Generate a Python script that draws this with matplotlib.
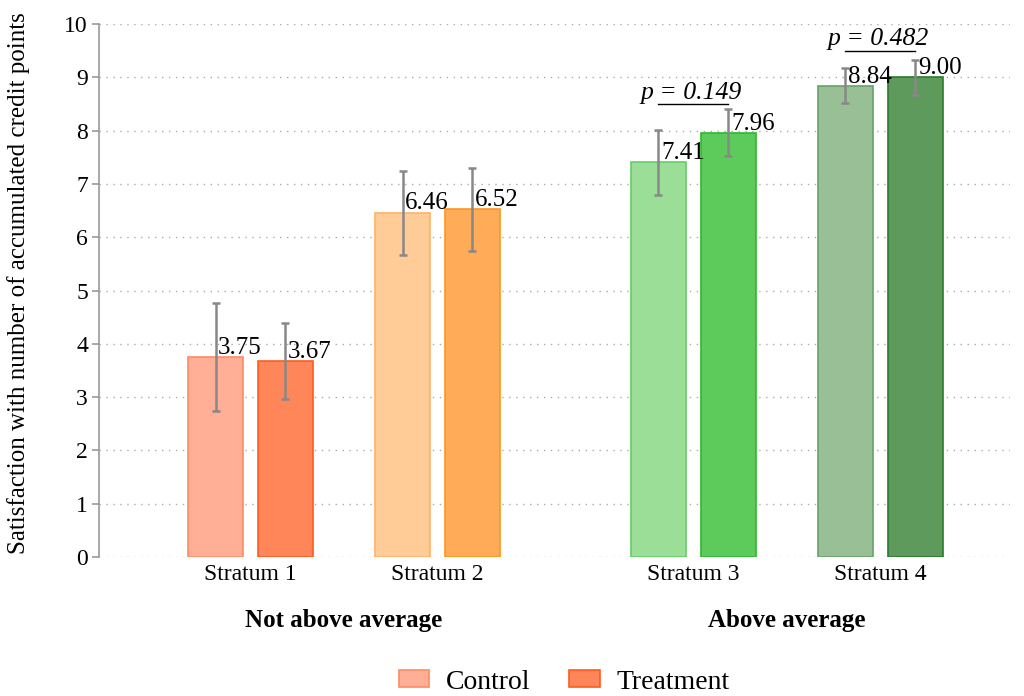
import numpy as np
import matplotlib.pyplot as plt
from matplotlib.patches import Patch

plt.rcParams['font.family'] = ['Liberation Serif', 'DejaVu Serif']

strata = ['Stratum 1', 'Stratum 2', 'Stratum 3', 'Stratum 4']
groups = ['Not above average', 'Above average']
control = [3.75, 6.46, 7.41, 8.84]
treatment = [3.67, 6.52, 7.96, 9.00]
control_lo = [2.74, 5.67, 6.80, 8.52]
control_hi = [4.76, 7.25, 8.02, 9.17]
treatment_lo = [2.96, 5.75, 7.52, 8.67]
treatment_hi = [4.39, 7.30, 8.40, 9.32]
p_strata = [2, 3]
p_values = ['0.149', '0.482']
p_heights = [8.5, 9.5]

ctrl_fill = ['#FFAF96', '#FFCB96', '#9BDE98', '#99BF97']
ctrl_edge = ['#FF8A66', '#FFB266', '#66CC66', '#66A366']
trt_fill = ['#FF8659', '#FFAB57', '#5CCB5C', '#5E9A5C']
trt_edge = ['#FF5A1F', '#FF951F', '#2DB82D', '#2B7A2B']

x = np.array([0, 1, 2.369, 3.369])
off = 0.187
w = 0.294

fig = plt.figure(figsize=(10.24, 6.96), dpi=100)
ax = fig.add_axes([0.0967, 0.1997, 0.8893, 0.7658])

ax.bar(x - off, control, w, color=ctrl_fill, edgecolor=ctrl_edge, linewidth=1.2, zorder=2)
ax.bar(x + off, treatment, w, color=trt_fill, edgecolor=trt_edge, linewidth=1.2, zorder=2)

c = np.array(control); t = np.array(treatment)
ax.errorbar(x - off, c, yerr=[c - np.array(control_lo), np.array(control_hi) - c],
            fmt='none', ecolor='#888888', elinewidth=1.8, capsize=3, capthick=1.8, zorder=3)
ax.errorbar(x + off, t, yerr=[t - np.array(treatment_lo), np.array(treatment_hi) - t],
            fmt='none', ecolor='#888888', elinewidth=1.8, capsize=3, capthick=1.8, zorder=3)

for i in range(4):
    ax.text(x[i] - off + 0.014, control[i] + 0.06, f'{control[i]:.2f}', ha='left', va='baseline', fontsize=18, zorder=4)
    ax.text(x[i] + off + 0.014, treatment[i] + 0.06, f'{treatment[i]:.2f}', ha='left', va='baseline', fontsize=18, zorder=4)

for s, pv, h in zip(p_strata, p_values, p_heights):
    ax.plot([x[s] - off, x[s] + off], [h, h], color='black', linewidth=1.0, zorder=4)
    ax.text(x[s] - 0.01, h + 0.1, f'p = {pv}', ha='center', va='baseline', fontsize=18.5, style='italic', zorder=4)

ax.set_xlim(-0.81, 4.06)
ax.set_ylim(0, 10)
ax.set_yticks(range(0, 11))
ax.set_xticks(x)
ax.set_xticklabels(strata, fontsize=17)
ax.tick_params(axis='x', length=0, pad=5)
ax.tick_params(axis='y', labelsize=17, color='#999999', length=5, width=1.2, pad=3)
ax.set_ylabel('Satisfaction with number of accumulated credit points', fontsize=18)
ax.yaxis.set_label_coords(-0.076, 0.513)
ax.yaxis.grid(True, linestyle=(0, (1, 4)), color='#AAAAAA', linewidth=1.0, zorder=0)
ax.set_axisbelow(True)
for sp in ['top', 'right', 'bottom']:
    ax.spines[sp].set_visible(False)
ax.spines['left'].set_color('#999999')
ax.spines['left'].set_linewidth(1.2)

for gi, g in enumerate(groups):
    gx = (x[2 * gi] + x[2 * gi + 1]) / 2
    ax.text(gx, -1.2, g, ha='center', va='center', fontsize=18, fontweight='bold')

handles = [Patch(facecolor=ctrl_fill[0], edgecolor=ctrl_edge[0], linewidth=1.2, label='Control'),
           Patch(facecolor=trt_fill[0], edgecolor=trt_edge[0], linewidth=1.2, label='Treatment')]
fig.legend(handles=handles, loc='center', bbox_to_anchor=(0.551, 0.02), ncol=2, frameon=False,
           fontsize=20, handlelength=1.1, handleheight=0.55, handletextpad=0.6, columnspacing=1.4,
           borderpad=0.2)

fig.savefig('out.png', dpi=100)
